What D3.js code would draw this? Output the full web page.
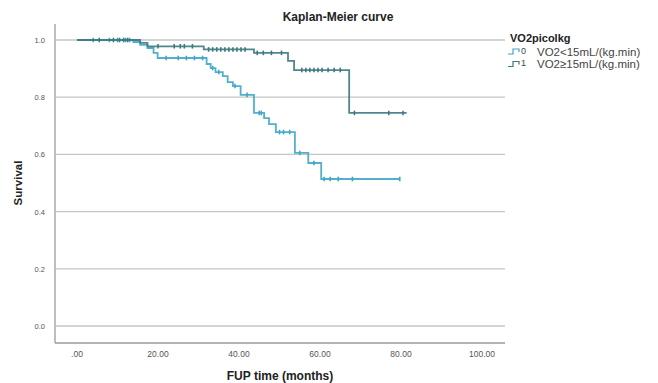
<!DOCTYPE html>
<html>
<head>
<meta charset="utf-8">
<script src="https://cdn.jsdelivr.net/npm/d3@7"></script>
<style>
  html, body { margin: 0; padding: 0; background: #fff; }
  svg { display: block; font-family: "Liberation Sans", Arial, sans-serif; }
</style>
</head>
<body>
<svg id="chart" width="658" height="383"></svg>
<script>
// Kaplan-Meier step data: event times (months) and survival after each step
const lowTimes  = [13.9, 15.6, 17.4, 18.9, 19.9, 32.0, 33.0, 34.2, 36.0, 37.2, 38.5, 40.4, 43.7, 46.2, 47.4, 49.1, 53.8, 57.1, 60.3];
const lowSurv   = [0.993, 0.983, 0.972, 0.955, 0.937, 0.916, 0.902, 0.888, 0.874, 0.853, 0.839, 0.808, 0.745, 0.727, 0.706, 0.678, 0.605, 0.570, 0.514];
const lowEnd    = 79.7;
const lowCensor = [4, 8, 10, 12, 13, 22, 25, 27, 29, 31, 33.5, 35, 39, 42, 45, 45.5, 50, 51, 52.5, 55, 58.5, 61, 62.5, 64.5, 68, 79.7];

const highTimes  = [15.6, 17.4, 31.3, 43.7, 52.1, 53.6, 67.2];
const highSurv   = [0.990, 0.978, 0.967, 0.955, 0.927, 0.895, 0.745];
const highEnd    = 81.4;
const highCensor = [5.5, 9, 10.5, 11.5, 12.5, 20, 24, 25.5, 26.5, 28.5, 32.5, 33.5, 34.5, 35.5, 36.5, 37.5, 38.5, 39.5, 40.5, 41.5, 44.5, 46, 48, 50.5, 55.5, 56.5, 57.5, 58.5, 59.5, 60.5, 62, 63.5, 65, 68.5, 77, 80.5];

const groupLabels = ["VO2<15mL/(kg.min)", "VO2\u226515mL/(kg.min)"];
const groupCodes  = ["0", "1"];
const groupColors = ["#3fa6c8", "#3d7a80"];
const xTicks = [0, 20, 40, 60, 80, 100];
const xTickLabels = [".00", "20.00", "40.00", "60.00", "80.00", "100.00"];
const yTicks = [0, 0.2, 0.4, 0.6, 0.8, 1.0];
const yTickLabels = ["0.0", "0.2", "0.4", "0.6", "0.8", "1.0"];

const svg = d3.select("#chart");
const x = d3.scaleLinear().domain([0, 100]).range([77, 482]);
const y = d3.scaleLinear().domain([0, 1]).range([326, 40]);

// frame: left and bottom axis lines
svg.append("line").attr("x1", 55).attr("x2", 55).attr("y1", 24).attr("y2", 343)
  .attr("stroke", "#9a9a9a").attr("stroke-width", 1.3);
svg.append("line").attr("x1", 55).attr("x2", 505).attr("y1", 343).attr("y2", 343)
  .attr("stroke", "#9a9a9a").attr("stroke-width", 1.3);

// horizontal gridlines
svg.append("g").selectAll("line").data(yTicks).join("line")
  .attr("x1", 55).attr("x2", 505)
  .attr("y1", d => y(d)).attr("y2", d => y(d))
  .attr("stroke", "#c6c6c6").attr("stroke-width", 1.3);

// y tick labels
svg.append("g").selectAll("text").data(yTicks).join("text")
  .attr("x", 45).attr("y", d => y(d) + 3)
  .attr("text-anchor", "end").attr("font-size", 7.5).attr("fill", "#555")
  .text((d, i) => yTickLabels[i]);

// x tick labels
svg.append("g").selectAll("text").data(xTicks).join("text")
  .attr("x", d => x(d)).attr("y", 357)
  .attr("text-anchor", "middle").attr("font-size", 8.5).attr("fill", "#555")
  .text((d, i) => xTickLabels[i]);

// titles
svg.append("text").attr("x", 338).attr("y", 21).attr("text-anchor", "middle")
  .attr("font-size", 12).attr("font-weight", "bold").attr("fill", "#222")
  .text("Kaplan-Meier curve");
svg.append("text").attr("x", 280).attr("y", 380).attr("text-anchor", "middle")
  .attr("font-size", 12).attr("font-weight", "bold").attr("fill", "#222")
  .text("FUP time (months)");
svg.append("text").attr("transform", "translate(22,183) rotate(-90)")
  .attr("text-anchor", "middle").attr("font-size", 11.5).attr("font-weight", "bold").attr("fill", "#222")
  .text("Survival");

// build step path points from event times
function stepPoints(times, surv, end) {
  const pts = [[0, 1]];
  let s = 1;
  times.forEach((t, i) => { pts.push([t, s]); s = surv[i]; pts.push([t, s]); });
  pts.push([end, s]);
  return pts;
}
function survAt(times, surv, t) {
  let s = 1;
  times.forEach((tt, i) => { if (tt <= t) s = surv[i]; });
  return s;
}

const line = d3.line().x(d => x(d[0])).y(d => y(d[1]));
const groups = [
  { times: lowTimes, surv: lowSurv, end: lowEnd, censor: lowCensor, color: groupColors[0] },
  { times: highTimes, surv: highSurv, end: highEnd, censor: highCensor, color: groupColors[1] }
];

groups.forEach(g => {
  svg.append("path").datum(stepPoints(g.times, g.surv, g.end))
    .attr("d", line).attr("fill", "none")
    .attr("stroke", g.color).attr("stroke-width", 1.8).attr("opacity", 0.9);
  svg.append("g").selectAll("line").data(g.censor).join("line")
    .attr("x1", d => x(d)).attr("x2", d => x(d))
    .attr("y1", d => y(survAt(g.times, g.surv, d)) - 2.3)
    .attr("y2", d => y(survAt(g.times, g.surv, d)) + 2.3)
    .attr("stroke", g.color).attr("stroke-width", 1.6);
});

// legend
const lg = svg.append("g");
lg.append("text").attr("x", 510).attr("y", 42).attr("font-size", 11)
  .attr("font-weight", "bold").attr("fill", "#222").text("VO2picolkg");
groupLabels.forEach((lab, i) => {
  const yy = 52 + i * 12.5;
  lg.append("path")
    .attr("d", `M508,${yy + 2}H513V${yy - 3}H519V${yy}`)
    .attr("fill", "none").attr("stroke", groupColors[i]).attr("stroke-width", 1.2);
  lg.append("text").attr("x", 521).attr("y", yy + 1.5).attr("font-size", 9)
    .attr("fill", "#444").text(groupCodes[i]);
  lg.append("text").attr("x", 537).attr("y", yy + 3.5).attr("font-size", 11.5)
    .attr("fill", "#444").text(lab);
});
</script>
</body>
</html>
